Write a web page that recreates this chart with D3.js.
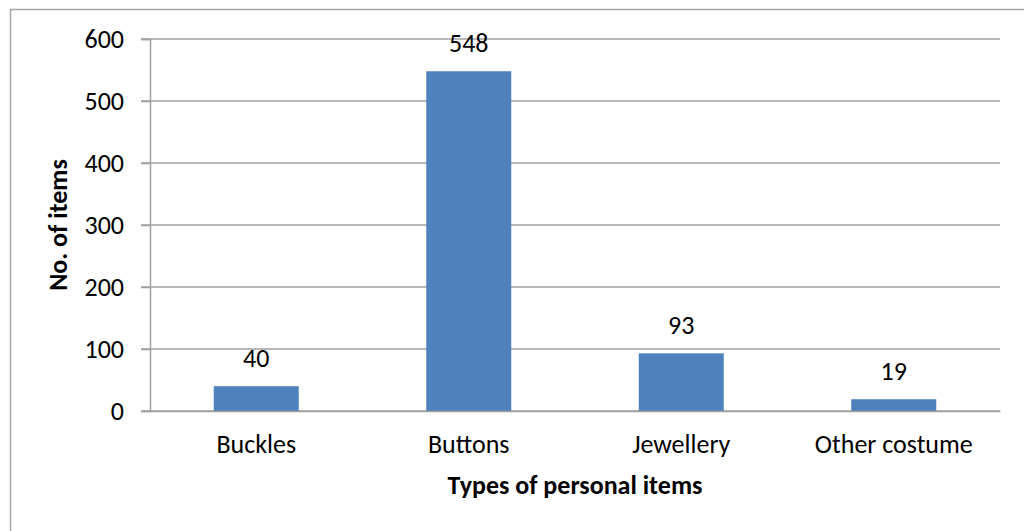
<!DOCTYPE html>
<html>
<head>
<meta charset="utf-8">
<script src="https://cdn.jsdelivr.net/npm/d3@7"></script>
<style>
  html, body { margin: 0; padding: 0; background: #fff; }
  svg { display: block; font-family: Carlito, Lato, "Open Sans", sans-serif; }
</style>
</head>
<body>
<svg id="chart" width="1024" height="531"></svg>
<script>
// Personal items counted by type
const categories = ["Buckles", "Buttons", "Jewellery", "Other costume"];
const counts = [40, 548, 93, 19];
const yTicks = [0, 100, 200, 300, 400, 500, 600];

const svg = d3.select("#chart");
const W = 1024, H = 531;
const margin = { left: 150, right: 24, top: 39, bottom: 120 };
const fontSize = 26;
const fontFamily = "Carlito, Lato, 'Open Sans', sans-serif";

// Outer chart frame
svg.append("rect")
  .attr("x", 10.5).attr("y", 9.5)
  .attr("width", W + 20).attr("height", H + 20)
  .attr("fill", "none").attr("stroke", "#a6a6a6").attr("stroke-width", 1.5);

const x = d3.scaleBand()
  .domain(categories)
  .range([margin.left, W - margin.right])
  .paddingInner(0.6).paddingOuter(0.3);

const y = d3.scaleLinear()
  .domain([0, 600])
  .range([H - margin.bottom, margin.top]);

// Horizontal gridlines
svg.append("g")
  .selectAll("line")
  .data(yTicks)
  .join("line")
  .attr("x1", margin.left - 9).attr("x2", W - margin.right)
  .attr("y1", d => y(d)).attr("y2", d => y(d))
  .attr("stroke", "#a0a0a0").attr("stroke-width", 1.5);

// Bars
svg.append("g")
  .selectAll("rect")
  .data(categories)
  .join("rect")
  .attr("x", d => x(d))
  .attr("width", x.bandwidth())
  .attr("y", (d, i) => y(counts[i]))
  .attr("height", (d, i) => y(0) - y(counts[i]))
  .attr("fill", "#4f81bd");

// Value labels
svg.append("g")
  .selectAll("text")
  .data(categories)
  .join("text")
  .attr("x", d => x(d) + x.bandwidth() / 2)
  .attr("y", (d, i) => y(counts[i]) - 19)
  .attr("text-anchor", "middle")
  .attr("font-size", fontSize)
  .attr("fill", "#000")
  .text((d, i) => counts[i]);

// Y axis
const yAxis = svg.append("g")
  .attr("transform", `translate(${margin.left},0)`)
  .call(d3.axisLeft(y).tickValues(yTicks).tickSize(9).tickPadding(17));
yAxis.select(".domain").attr("stroke", "#a0a0a0").attr("stroke-width", 1.5);
yAxis.selectAll(".tick line").attr("stroke", "#a0a0a0").attr("stroke-width", 1.5);
yAxis.selectAll(".tick text")
  .attr("font-size", fontSize).attr("fill", "#000")
  .attr("font-family", fontFamily);

// X axis
const xAxis = svg.append("g")
  .attr("transform", `translate(0,${y(0)})`)
  .call(d3.axisBottom(x).tickSize(0).tickPadding(24));
xAxis.select(".domain").attr("stroke", "#a0a0a0").attr("stroke-width", 1.5);
xAxis.selectAll(".tick text")
  .attr("font-size", fontSize).attr("fill", "#000")
  .attr("font-family", fontFamily);

// Axis titles
svg.append("text")
  .attr("x", (margin.left + W - margin.right) / 2)
  .attr("y", 494)
  .attr("text-anchor", "middle")
  .attr("font-size", fontSize).attr("font-weight", "bold")
  .text("Types of personal items");

svg.append("text")
  .attr("transform", `translate(67,${(y(0) + y(600)) / 2}) rotate(-90)`)
  .attr("text-anchor", "middle")
  .attr("font-size", fontSize).attr("font-weight", "bold")
  .text("No. of items");
</script>
</body>
</html>
